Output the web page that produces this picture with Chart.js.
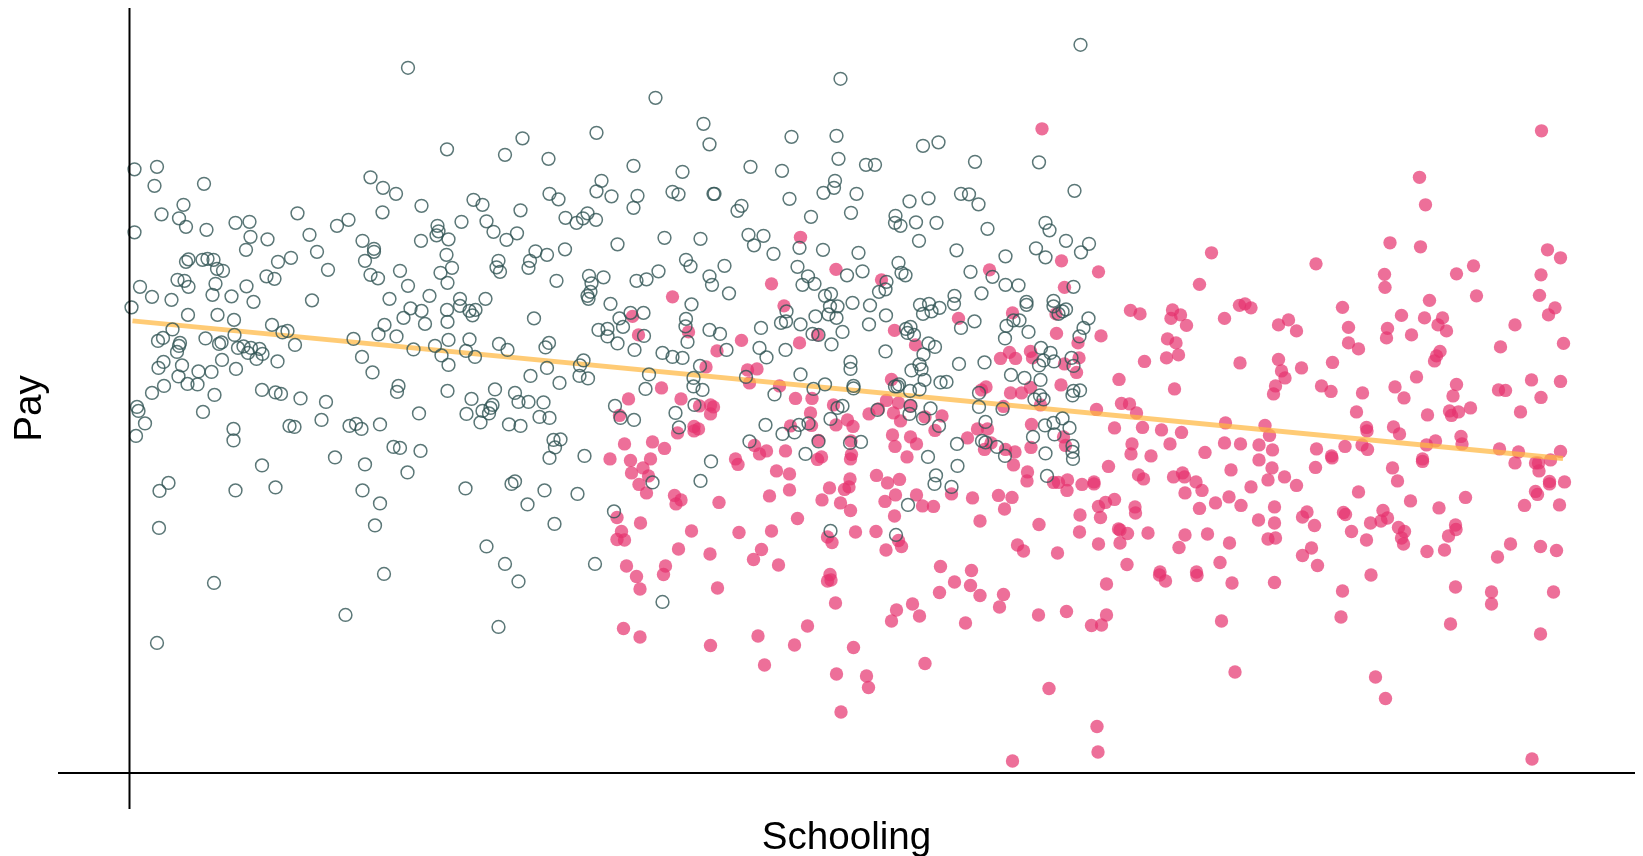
<!DOCTYPE html>
<html><head><meta charset="utf-8">
<script src="https://cdn.jsdelivr.net/npm/chart.js@4"></script>
<style>html,body{margin:0;padding:0;background:#fff}canvas{display:block}</style>
</head><body><canvas id="c" width="1643" height="856"></canvas>
<script>
const xTitle = "Schooling";
const yTitle = "Pay";
const xRange = [-71.5, 1505.5];
const yRange = [-36, 764.8];
const fitLine = [[3,452],[1433.5,314.5]];
const belowCutoff = [
[278.5,705],[317.5,623.5],[5,603.5],[27.5,606],[25,587],[74.5,589],[241,595.5],[253.5,585],[266.5,579],[292,567],[344,573],[353,568],[54,568],[32,558.5],[49.5,554.5],[56.5,546],[5,540.5],[77,543],[106,550],[120,551],[168,559.5],[219,553],[207.5,547],[253,560.5],[332,551],[357,551.5],[364,541],[180,538],[121,536],[138,533.5],[233,532],[308,547],[309,541.5],[307,537.5],[319,533.5],[291.5,532],[116.5,523],[187.5,521],[244.5,524],[244.5,521],[317,518],[59,513.5],[56.5,511],[73,513],[78,514],[84,513],[161.5,515],[148.5,511],[235.5,512],[369,512],[367,505.5],[370.5,501],[87.5,504],[93.5,502],[198.5,503],[322.5,505],[270.5,502],[311,500],[137,496.5],[145,494],[241,498],[248.5,494.5],[48,493],[55,492],[59,486],[86,489],[117,486.5],[10.5,486],[278.5,487],[318,490],[22.5,476],[42,473],[83,478],[102,476.5],[124,471],[182.5,472.5],[260,474],[300,477],[330.5,474],[356,474],
[2,465.5],[58.5,458],[88,458],[104.5,453],[43,443.5],[142.5,448],[105,438],[153,440.5],[158,442],[165.5,428],[28.5,432],[33.5,435],[50.5,430],[49.5,427],[47.5,421],[76,434.5],[89.5,429],[92,430.5],[108.5,425],[114,426.5],[121.5,425],[118.5,420],[130,424],[133,419],[127,414],[148,411.5],[224,434],[232.5,416],[243,400.5],[249,438.5],[255,448],[267,436.5],[274,455],[281,464.5],[292,462],[295.5,449],[317.5,463],[318,451],[319,433],[284,423.5],[305.5,427],[312,417.5],[319,408],[330.5,467],[340,462],[346,463],[343,457.5],[340,433.5],[336.5,422],[345.5,416],[369.5,429],[34,411],[29,405],[52.5,407.5],[69,401.5],[82,401],[92.5,413],[106.5,404],[49,396.5],[58,389],[68,388.5],[34.5,387],[22.5,380],[85,378],[132.5,383],[146,380.5],[151.5,379],[171,374.5],[196.5,371],[269,387],[267.5,381],[318,382],[365.5,383.5],[342,374],[7.5,366],[9,362],[73.5,361],[289.5,359.5],[337,359],[353,362],[363,368],[361,365],[359.5,359.5],[15.5,349.5],[192,353],[220,347],[226.5,349],[232,344],[250.5,348.5],[351,350.5],[160,347],[165,346],[104,344],[104,332.5],[6.5,337],[264,326],[270.5,325],[291,322],[205.5,315.5],[235.5,308.5],[132.5,307.5],[278,300.5],[39,290],[30,282],[106,282.5],[146,285.5],[233,282.5],[336,284.5],[250.5,269.5],[29.5,245],[245.5,247.5],[357,226.5],[254.5,199],[84.5,190],[27.5,130],[216,158],[369,146],[389,191.5],
[404.5,454.5],[378,423],[416,425.5],[419.5,430],[417.5,405],[401,397],[430,390],[450.5,407.5],[454,412.5],[450,397],[458.5,394.5],[385.5,380],[389,371],[399,371],[414,370.5],[410,356],[420,355],[379.5,348.5],[391,347],[424,333],[431,333.5],[425.5,325.5],[420,315],[455,317],[385.5,291.5],[382,289],[415,282.5],[448,279],[398,268.5],[425,249],[375.5,209],[465.5,209],[485.5,367],[491,355],[504.5,353],[516,384],[519.5,398.5],[469,443],[478,444],[478,436.5],[488,429.5],[490,454.5],[493.5,446],[501,460],[514,460],[505,423],[514.5,437],[533,420],[543,416],[553,415],[556.5,454],[556,446.5],[558,431],[580,443],[590.5,439],[597,423],[570.5,407],[564,395],[564,386.5],[573,383],[565,368],[546,360],[549.5,345.5],[581.5,311.5],[571,292],[523,290.5],[484.5,261.5],[631.5,445],[630,425],[637,415.5],[656,423],[651.5,450],[656.5,451.5],[657,461.5],[671,448.5],[686,456.5],[683,439],[689,438],[702,428.5],[713,441],[739.5,448.5],[700.5,466.5],[708,466.5],[699,458.5],[707,455],[723,470],[740.5,467.5],[616.5,396],[645,378.5],[671,398.5],[684,384],[695.5,388.5],[721,411],[721,404],[724,387],[724,384.5],[713,367],[708,365],[701,354],[748,363],[636,348],[653,339],[665,340.5],[669.5,348],[679,349.5],[620,331.5],[689,331.5],[720.5,330],[731.5,331],[676,319],[701,242],[481,469],[562,468.5],[533,171],
[951,728],[793.5,627],[809,630.5],[845.5,611],[909.5,610.5],[945,582],[780,571.5],[799,574.5],[831.5,579],[839.5,578.5],[849,568.5],[766,557],[765.5,550],[771,547],[786.5,550.5],[807,550],[858,544],[916,550],[920,542.5],[936.5,532],[959.5,529],[906.5,524.5],[916,515.5],[951.5,520.5],[789.5,532],[827,522.5],[876,516.5],[769,510],[772,500],[776,497.5],[841,501],[863,496],[876,488],[889,487.5],[944,486],[757,491],[756,483.5],[825,477],[852,479.5],[897,471],[924,472],
[526,675],[711,694],[574,649],[580,628.5],[467,640],[393,634.5],[375.5,618],[419,614],[504,607],[662,636],[707,637],[709,614],[621,606],[652.5,602],[553,601],[736.5,608],[745.5,608],[472,592],[467,581.5],[420,579],[429,573.5],[482,576.5],[508,577],[504,565],[543,581],[549,578.5],[584,579],[585,579],[705.5,592],[704.5,585],[694,580],[727,579],[660,574],[612,567],[608,562],[681.5,556],[721.5,560],[391,562.5],[436,555],[458,559.5],[453.5,554.5],[447,550],[466.5,553],[387.5,539.5],[377,533],[488,528.5],[535,535],[571,534],[619,538],[634,537],[624.5,527.5],[670,525],[693.5,523],[729,520],[644,519],[406,521.5],[417.5,518],[435.5,523.5],[400.5,512],[399,505],[556.5,513],[561,506.5],[595,507],[668,506],[733,501.5],[717.5,497.5],[678.5,496.5],[673,488],[685,489],[580,496.5],[582.5,488],[529,501.5],[517,493.5],[507,492],[474,495.5],[459.5,497],[462,489.5],[427,492],[461,481],[458,477],[459,474],[599.5,479.5],[701.5,479],[695.5,477],[749.5,481],
[756.5,457.5],[790.5,468],[799.5,469],[810,465],[802,461.5],[793.5,459],[824.5,469],[831.5,445],[845,451.5],[781,446],[776.5,444],[778,440],[784.5,438],[799,429.5],[805.5,426],[794,418.5],[756,421.5],[790,408.5],[792,403.5],[782,402.5],[795,393],[829.5,409],[855,410.5],[811,390.5],[817,391],[769.5,388.5],[765.5,386.5],[768,386.5],[780.5,382],[790,383.5],[897,468],[924,466.5],[936.5,463.5],[933,461.5],[929,459],[959,454.5],[884,452.5],[890,452.5],[877,447],[899,441],[954,445],[950,436.5],[875.5,434.5],[911.5,425],[921,420],[914,412.5],[924.5,411.5],[909.5,407.5],[942,415],[944,407],[881.5,398],[895,395],[911,393],[944,382],[950.5,382.5],[943,377.5],[849.5,380],[849.5,366],[873,364],[905,373.5],[910.5,377.5],[914,373.5],[781,367],[801,364.5],[780,359],[793.5,354.5],[809.5,347],[856,351],[933,354.5],[924,350],[915.5,347.5],[940,345],[925,338.5],[903.5,336],[827.5,329],[852.5,332],[856,330.5],[867.5,326],[875.5,317],[798.5,316],[828,307],[943,327],[943,321],[943.5,314],[916,319.5],[917.5,297],[806.5,297.5],[805,289],[822,286],[778.5,268],[766.5,238]
];
const aboveCutoff = [
[503,456.5],[509,438],[559,441],[654.5,467],[612,432.5],[587.5,422],[576.5,406],[670,430],[688,438],[618,403],[627.5,404],[620,390],[650,387],[532,385],[499,374],[551.5,374],[666,374.5],[682.5,374.5],[570,367],[581,368],[584,366],[581,359],[704,368],[681,360],[490,357.5],[564.5,346.5],[569,344],[564.5,342],[548,340],[661,347],[682,347.5],[718,353],[706.5,348],[723.5,346.5],[739.5,359],[749,364],[495,329],[523,331],[535,324.5],[625,327.5],[630,319],[637,322],[656,322],[689,332.5],[721.5,332],[722,318.5],[721,314],[692,316],[688,313.5],[480.5,314],[501,312.5],[521,314],[606,314],[608.5,308.5],[513.5,305],[502,300],[519,297],[647,302],[660,299],[747,297.5],[720.5,294],[509.5,288.5],[700,285],[715,283.5],[719.5,286],[517,280],[660,283],[640,277],[545,277.5],[551.5,273],[546.5,269],[589.5,270.5],[692.5,273],[711,270],[721,262.5],[668,254.5],[487.5,255.5],[511,250],[492,241.5],[562,242],[609.5,240.5],[642,242],[726,241],[746.5,241.5],[698,236],[702.5,230.5],[487.5,233.5],[495,233],[549,224],[632,223.5],[580.5,219],[624,213.5],[649,208],[497,207],[536,207],
[507,196.5],[510.5,184],[534,198.5],[588,185],[494,144.5],[510.5,136],[581,127.5],[628.5,137],[665,128],[678,147],[635,108],[700.5,198.5],[698,192],[701.5,193],[706,170],[724,125.5],[707,99],[737,97],[739,85.5],[711.5,61],[762,152],[767,163],[783,169],[790,157],[795.5,109.5],[810,180.5],[825,191],[841,187.5],[850.5,177.5],[874,178.5],[870,166],[836,150],[909,158],[937,161.5],[919.5,84.5],[883,12],[962,147.5],[967.5,46.5],[968.5,21],
[912.5,644],[860,503],[932,512],[969,501],[935,485.5],[752,493],[1082,520],[1070,488.5],[671,535.5],[706.5,503.5],[642,489],[543,476],
[829,454.5],[765,442.5],[786,428],[883,460],[926.5,459],[927,439.5],[971.5,437],[948.5,430],[1001,462.5],[1010.5,459],[1043,463],[1051,458],[1041.5,454.5],[1057,447.5],[1095,454.5],[1110,467.5],[1115.5,469],[1121.5,465],[1038,434],[1046.5,430],[1049,418],[1037,415],[1015,411.5],[1110.5,410],[989.5,393.5],[1045,384],[871,414.5],[880,420.5],[886,414.5],[901,421.5],[903,415],[935,409],[949.5,415],[947,400.5],[931.5,388],[901,385.5],[892,380],[881,380],[856.5,386],[852,383],[762,393.5],[911,368],[874,366.5],[757,372.5],[769,370],[764,360],[771,352],[781,367],[795.5,356],[812.5,357],[805.5,342.5],[848,344],[858,344],[838,335],[763,338],[781,336],[787,329],[765.5,326.5],[777.5,316],[902,348.5],[934,336],[936,327.5],[861.5,330],[855,323.5],[876,323.5],[885.5,321],[901.5,325.5],[884,308],[898,301],[897.5,292],[924,290.5],[929,290.5],[938,293],[937.5,282.5],[952.5,288.5],[964.5,291],[964.5,289],[979,306.5],[967,363.5],[992,369.5],[1000,369],[1007,360],[985,345],[1013,345.5],[1032,343],[1052,340.5],[1096,350],[1002.5,329],[1001.5,319],[1021.5,317],[1040.5,329],[1075.5,320.5],[1095,330],[1111,329],[1129.5,328],[1129.5,313],[1101.5,303],[1009,298],[1014,294],[1044,296],[1053,300],[1055,296],[1066.5,291],[1072.5,282.5],[1055.5,280],[1121.5,286],[1099.5,276],[1086,270],[1111.5,267.5],[1070,264.5],[985,273.5],[976,270.5],[969,266.5],[1005.5,266],[1006,260],[950.5,258],[971,255.5],[1129,253],[909.5,248.5],[850.5,252],[875,264],[882.5,275.5],[869,277.5],[843,275],[822,279],[787,278],[766,278],[755.5,271.5],[793,267],[804,266.5],[765,257],[770,293.5],[758,290],[769,232.5],[772,226.5],[756.5,223],[950,241],[989,244],[990.5,243],[998,239.5],[990.5,230],[969,229],[1018.5,240],[1055.5,238],[1078,239],[1049.5,225.5],[1100,230],[888,228],[894,222],[928,220],[997.5,208.5],[1090.5,210.5],[811,206.5],[842,202.5],[1030.5,201],[1067,201],
[1412,642],[1290,595.5],[1296,568],[1260.5,530],[1291,526],[1186.5,509],[1255,498.5],[1255.5,485.5],[1327,499],[1344,507],[1347,477],[1300,472.5],[1418,523],[1431,515],[1411.5,498],[1410,477.5],[1425.5,465],[1419,458],[1213,465.5],[1272,457.5],[1295,455],[1313,455],[1308.5,448],[1317,442],[1385.5,448],[1149,448],[1159,453],[1167,442],[1219,445.5],[1258,444.5],[1257,435],[1282,438],[1219,430],[1229,424],[1371,426],[1434,429.5],[1310.5,421.5],[1307,417],[1305,412],[1149,413.5],[1203,410.5],[1172,405],[1152,402],
[1155.5,395],[1146,387],[1144,379],[1192,387],[1201.5,381.5],[1233,380],[1265.5,386],[1274.5,375],[1287,396],[1327,388.5],[1323.5,377],[1341,365],[1329,361],[1320,362],[1322,357.5],[1369,383],[1376,382.5],[1402,393],[1431,391.5],[1411.5,375.5],[1391,361],[1227,361],[1298,358],[1135.5,347.5],[1140,337.5],[1237,345.5],[1237.5,342],[1264,346],[1270,339],[1143,323],[1187,324],[1215.5,326.5],[1232.5,328],[1238,323.5],[1306,332],[1297,328],[1331.5,336.5],[1332.5,329],[1370,324],[1389,321],[1431,321.5],[1421,313],[1202,317],[1202.5,315],[1293,314],[1293,311.5],[1142.5,305],[1186,305.5],[1263,305],[1385.5,310],[1406,310],[1409,310],[1409.5,302],[1138.5,293],[1155,296],[1167,287.5],[1268,292],[1420,291.5],[1420,289],[1435,291],[1229,281],[1406,281.5],[1408,278.5],[1336,275.5],[1281,272],[1395,267.5],[1430,268],[1145,266],[1309.5,265],[1177.5,261],[1173,256],[1145,250],[1185,247.5],[1214,260.5],[1216,258.5],[1253.5,262.5],[1258,255],[1251.5,252],[1241,250],[1222,241.5],[1237,233],[1269,245.5],[1275,241.5],[1272,235],[1274,229],[1326,248],[1326.5,243.5],[1319,237],[1138.5,234],[1146,235],[1315,223],[1297.5,221.5],[1381,229],[1368,216],[1411,226.5],[1427,222.5],[1182,225],[1173,217.5],[1188,207.5],[1241.5,198],[1145,190.5],[1213,182],[1211.5,156],[1326,186],[1362,181],[1362,169],[1424,181],[1321,149],[1411,139],
[977,189],[1030,198],[1036,192],[1067.5,197.5],[1102.5,190],[977,158],[972,148],[1092,152],[1105.5,101],[1246,96],[1256,74.5],[1402.5,14]
];
const toXY = rows => rows.map(([x, y]) => ({x, y}));
new Chart(document.getElementById('c'), {
  type: 'scatter',
  data: { datasets: [
    { label:'x axis', data: toXY([[xRange[0],0],[xRange[1],0]]), showLine:true, borderColor:'#000', borderWidth:2, pointRadius:0, order:1 },
    { label:'y axis', data: toXY([[0,yRange[0]],[0,yRange[1]]]), showLine:true, borderColor:'#000', borderWidth:2, pointRadius:0, order:1 },
    { label:'Below cutoff', data: toXY(belowCutoff), backgroundColor:'rgba(0,0,0,0)', borderColor:'rgba(50,85,85,.8)', borderWidth:1.5, pointRadius:6.4, order:2 },
    { label:'Fit', data: toXY(fitLine), showLine:true, borderColor:'rgba(255,183,64,.72)', borderWidth:5, pointRadius:0, order:3 },
    { label:'Above cutoff', data: toXY(aboveCutoff), backgroundColor:'rgba(230,50,110,.7)', borderWidth:0, pointRadius:6.7, order:4 }
  ]},
  options: {
    responsive:false, animation:false, events:[],
    layout:{ padding:{ top:8, right:8, left:0, bottom:0 } },
    plugins:{ legend:{display:false}, tooltip:{enabled:false} },
    scales:{
      x:{ type:'linear', min:xRange[0], max:xRange[1], grid:{display:false}, border:{display:false}, ticks:{display:false},
          afterFit:s=>{s.height=47},
          title:{display:true,text:xTitle,color:'#000',font:{family:'"Liberation Sans",Arial,sans-serif',size:38.6},padding:{top:0,bottom:-6}} },
      y:{ type:'linear', min:yRange[0], max:yRange[1], grid:{display:false}, border:{display:false}, ticks:{display:false},
          afterFit:s=>{s.width=58},
          title:{display:true,text:yTitle,color:'#000',font:{family:'"Liberation Sans",Arial,sans-serif',size:38.6},padding:{top:7,bottom:0}} }
    }
  }
});
</script></body></html>
